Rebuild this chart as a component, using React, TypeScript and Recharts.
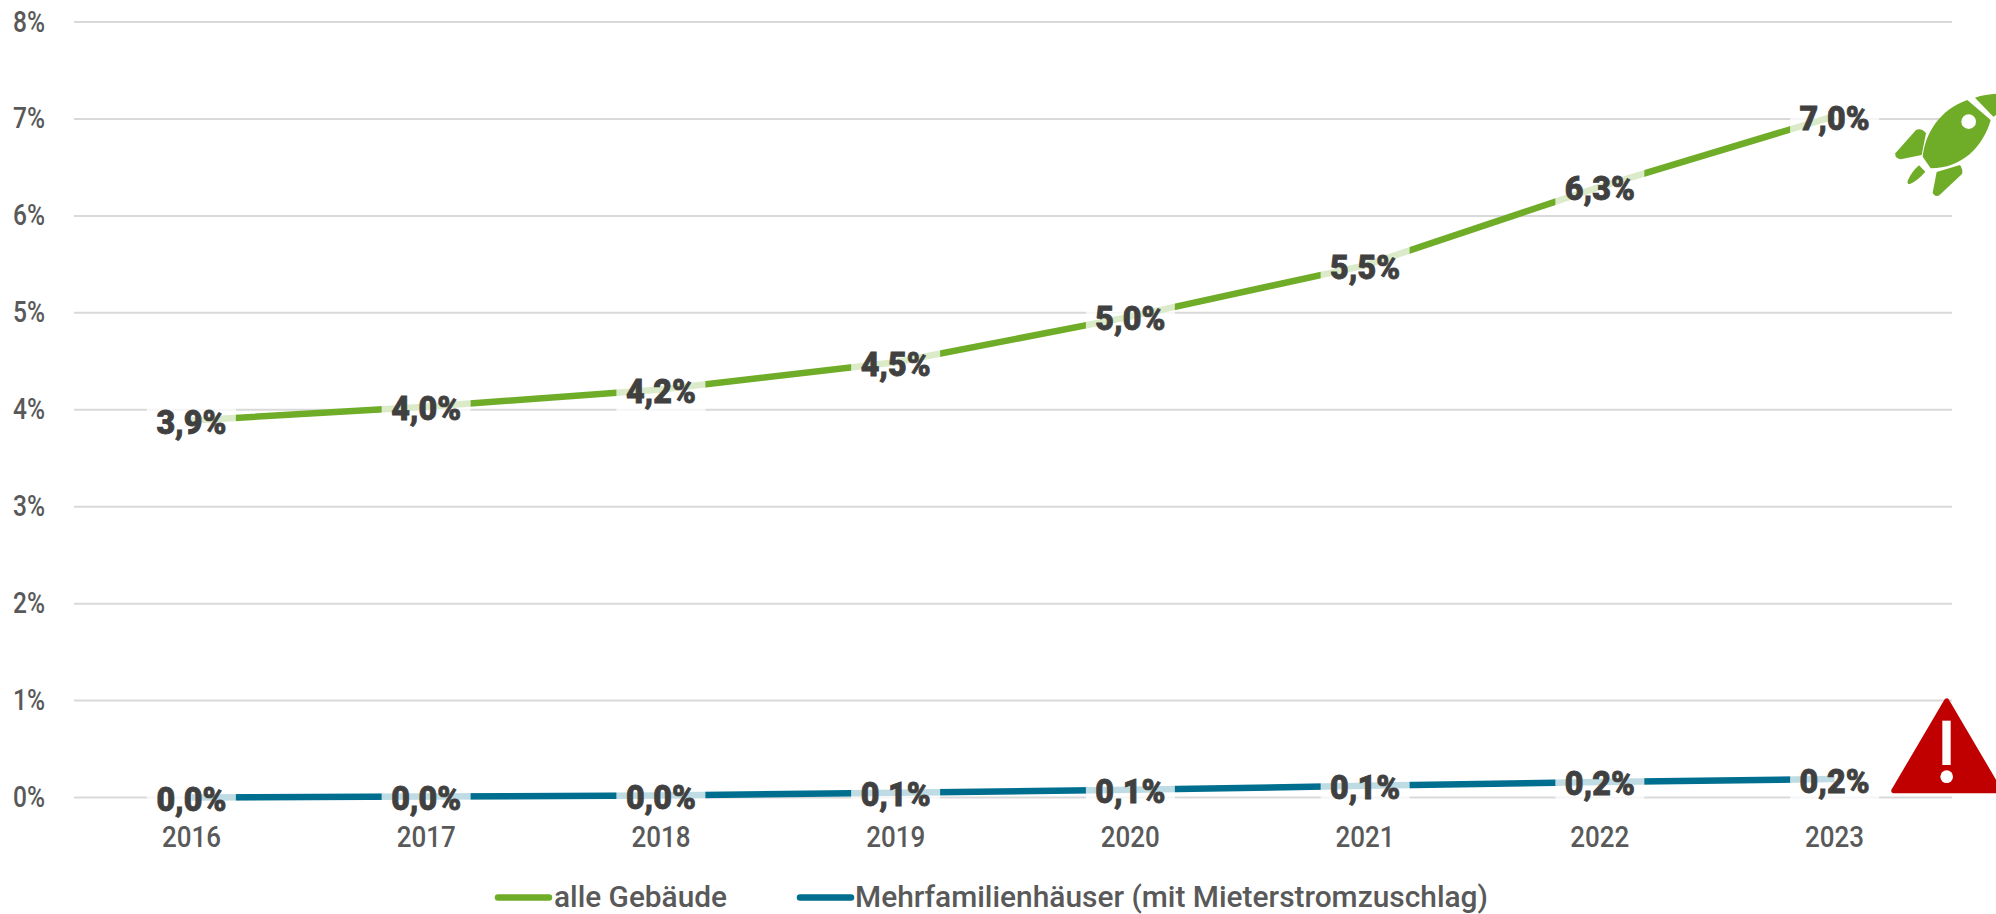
import React from 'react';
import { LineChart, Line, XAxis, YAxis, CartesianGrid, Legend, LabelList } from 'recharts';

const years = ['2016', '2017', '2018', '2019', '2020', '2021', '2022', '2023'];
const alleGebaeude = [3.89, 4.03, 4.21, 4.49, 4.96, 5.49, 6.3, 7.03];
const mehrfamilien = [0.0, 0.01, 0.02, 0.05, 0.08, 0.12, 0.16, 0.19];
const alleLabels = ['3,9%', '4,0%', '4,2%', '4,5%', '5,0%', '5,5%', '6,3%', '7,0%'];
const mehrLabels = ['0,0%', '0,0%', '0,0%', '0,1%', '0,1%', '0,1%', '0,2%', '0,2%'];
const yTicks = [0, 1, 2, 3, 4, 5, 6, 7, 8];

const data = years.map((year, i) => ({
  year,
  alle: alleGebaeude[i],
  mehr: mehrfamilien[i],
  alleLabel: alleLabels[i],
  mehrLabel: mehrLabels[i],
}));

const FONT = 'Roboto, sans-serif';
const GREEN = '#6fac27';
const BLUE = '#006f8f';
const TEXT = '#595959';

// label with the see-through white box behind it
const ValueLabel = (props: any) => {
  const { x, y, value } = props;
  return (
    <g>
      <rect x={x - 44.5} y={y - 23} width={89} height={46} fill="#fff" fillOpacity={0.75} />
      <text
        x={x}
        y={y + 13.5}
        textAnchor="middle"
        textLength={70}
        lengthAdjust="spacingAndGlyphs"
        fontFamily={FONT}
        fontWeight={900}
        fontSize={33}
        fill="#404040"
        stroke="#404040"
        strokeWidth={0.8}
      >
        {value}
      </text>
    </g>
  );
};

const YTick = (props: any) => {
  const { x, y, payload } = props;
  return (
    <text x={x} y={y + 9.5} textAnchor="end" textLength={32} lengthAdjust="spacingAndGlyphs" fontFamily={FONT} fontWeight={500} fontSize={30} fill={TEXT}>
      {payload.value}%
    </text>
  );
};

const XTick = (props: any) => {
  const { x, payload } = props;
  return (
    <text x={x} y={847} textAnchor="middle" textLength={59} lengthAdjust="spacingAndGlyphs" fontFamily={FONT} fontWeight={500} fontSize={30} fill={TEXT}>
      {payload.value}
    </text>
  );
};

const legendPos = [
  { line: 495, text: 554, width: 173 },
  { line: 797, text: 855, width: 633 },
];

const LegendContent = (props: any) => (
  <svg width={1996} height={60} style={{ display: 'block' }}>
    {props.payload.map((entry: any, i: number) => (
      <g key={entry.value}>
        <line x1={legendPos[i].line + 3} x2={legendPos[i].line + 54} y1={43.5} y2={43.5} stroke={entry.color} strokeWidth={6.5} strokeLinecap="round" />
        <text x={legendPos[i].text} y={53} textLength={legendPos[i].width} lengthAdjust="spacingAndGlyphs" fontFamily={FONT} fontWeight={500} fontSize={30} fill={TEXT}>
          {entry.value}
        </text>
      </g>
    ))}
  </svg>
);

const Rocket = () => (
  <svg width={256} height={160} viewBox="0 0 768 480" style={{ position: 'absolute', left: 1740, top: 60 }}>
    <g fill={GREEN}>
      <path d="M682 120 C600 148 555 220 548 290 L572 325 C665 325 730 260 752 180 Z" />
      <path d="M705 113 C725 105 750 102 768 101 L768 165 L760 170 Z" />
      <path d="M466 280 L528 210 Q545 203 558 220 L545 285 L482 298 Q464 295 466 280 Z" />
      <path d="M503 362 Q515 335 537 316 L556 335 Q535 360 510 372 Q500 372 503 362 Z" />
      <path d="M590 336 L660 315 Q670 330 666 342 L598 406 Q585 412 578 398 Z" />
    </g>
    <circle cx={686} cy={185} r={22} fill="#fff" />
  </svg>
);

const Warning = () => (
  <svg width={256} height={160} viewBox="0 0 768 480" style={{ position: 'absolute', left: 1740, top: 680 }}>
    <path d="M620 63 L462 332 L778 332 Z" fill="#c00000" stroke="#c00000" strokeWidth={16} strokeLinejoin="round" />
    <rect x={607} y={122} width={25} height={133} fill="#fff" />
    <circle cx={620} cy={290} r={19} fill="#fff" />
  </svg>
);

export default function App() {
  return (
    <div style={{ position: 'absolute', left: 0, top: 0, width: 1996, height: 914, overflow: 'hidden', background: '#fff' }}>
      <LineChart width={1996} height={914} data={data} margin={{ top: 22, right: 44, left: 0, bottom: 0 }}>
        <CartesianGrid vertical={false} stroke="#d9d9d9" strokeWidth={2} />
        <XAxis dataKey="year" height={56.5} axisLine={false} tickLine={false} padding={{ left: 117.4, right: 117.4 }} tick={<XTick />} interval={0} />
        <YAxis width={74} domain={[0, 8]} ticks={yTicks} axisLine={false} tickLine={false} tickMargin={23} tick={<YTick />} interval={0} />
        <Legend verticalAlign="bottom" height={60} itemSorter={null} content={<LegendContent />} />
        <Line dataKey="alle" name="alle Gebäude" stroke={GREEN} strokeWidth={6.5} dot={false} isAnimationActive={false}>
          <LabelList dataKey="alleLabel" content={<ValueLabel />} />
        </Line>
        <Line dataKey="mehr" name="Mehrfamilienhäuser (mit Mieterstromzuschlag)" stroke={BLUE} strokeWidth={6.5} dot={false} isAnimationActive={false}>
          <LabelList dataKey="mehrLabel" content={<ValueLabel />} />
        </Line>
      </LineChart>
      <Rocket />
      <Warning />
    </div>
  );
}
